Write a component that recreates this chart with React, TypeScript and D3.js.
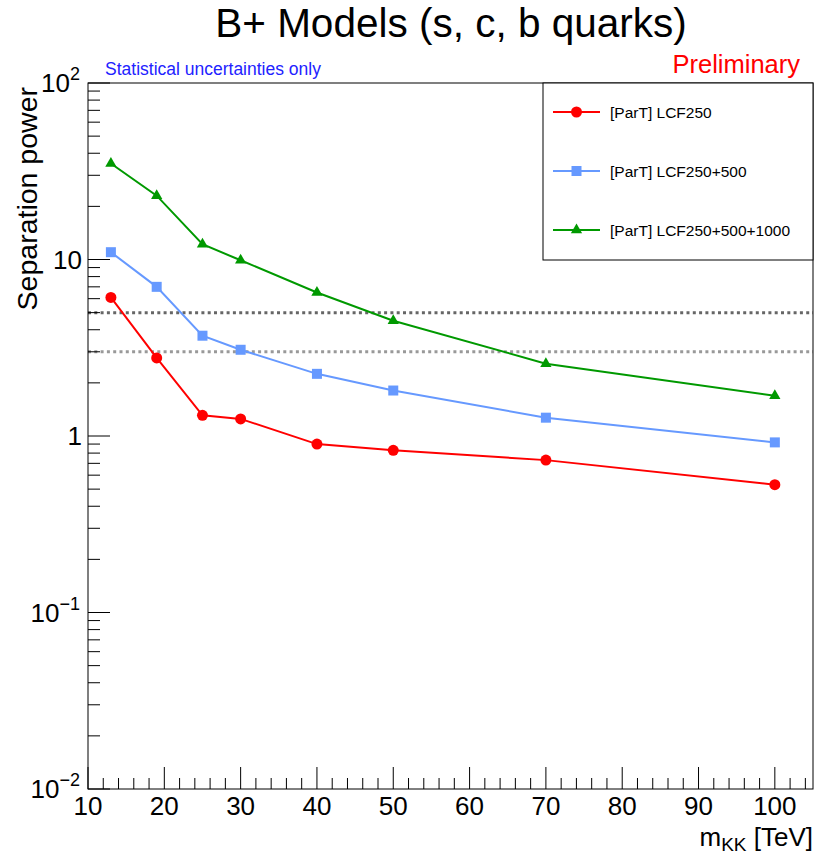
import React from "react";
import * as d3 from "d3";

// m_KK points [TeV]
const massPoints = [13, 19, 25, 30, 40, 50, 70, 100];
const lcf250 = [6.1, 2.77, 1.31, 1.25, 0.9, 0.83, 0.73, 0.53];
const lcf250_500 = [11.0, 7.0, 3.7, 3.08, 2.25, 1.81, 1.27, 0.92];
const lcf250_500_1000 = [35.0, 23.0, 12.2, 9.9, 6.5, 4.5, 2.57, 1.69];
const seriesNames = ["[ParT] LCF250", "[ParT] LCF250+500", "[ParT] LCF250+500+1000"];
const seriesColors = ["#ff0000", "#6699ff", "#009900"];
const xTicks = [10, 20, 30, 40, 50, 60, 70, 80, 90, 100];
const yDecades = [0.01, 0.1, 1, 10, 100];
const yDecadeLabels = [["10", "\u22122"], ["10", "\u22121"], ["1", ""], ["10", ""], ["10", "2"]];
const thresholds = [5, 3];
const thresholdColors = ["#666666", "#999999"];

const W = 817, H = 855;
const left = 88, right = 813, top = 83, bottom = 789;
const FONT = "'Liberation Sans', Arial, Helvetica, sans-serif";

export default function App() {
  const x = d3.scaleLinear().domain([10, 105]).range([left, right]);
  const y = d3.scaleLog().domain([0.01, 100]).range([bottom, top]);

  const data = [lcf250, lcf250_500, lcf250_500_1000];
  const line = d3.line<number>()
    .x((_, i) => x(massPoints[i]))
    .y((d) => y(d));

  const xMinor = d3.range(10, 105, 2).filter((v) => v % 10 !== 0);
  const yMinor: number[] = [];
  yDecades.slice(0, -1).forEach((dec) => {
    for (let k = 2; k <= 9; k++) yMinor.push(dec * k);
  });

  const marker = (s: number, cx: number, cy: number, key: string) => {
    const c = seriesColors[s];
    if (s === 0) return <circle key={key} cx={cx} cy={cy} r={5.5} fill={c} />;
    if (s === 1) return <rect key={key} x={cx - 5} y={cy - 5} width={10} height={10} fill={c} />;
    const sym = d3.symbol().type(d3.symbolTriangle).size(55)();
    return <path key={key} d={sym || ""} transform={`translate(${cx},${cy})`} fill={c} />;
  };

  const legendY = [112, 171, 230];

  return (
    <svg width={W} height={H} style={{ position: "absolute", left: 0, top: 0, background: "#fff" }} fontFamily={FONT}>
      <rect x={0} y={0} width={W} height={H} fill="#fff" />
      <text x={451} y={37} fontSize={40.5} textAnchor="middle" fill="#000">B+ Models (s, c, b quarks)</text>
      <text x={105} y={75} fontSize={17.5} fill="#2222ff">Statistical uncertainties only</text>
      <text x={800} y={73} fontSize={25.5} textAnchor="end" fill="#ff0000">Preliminary</text>

      {/* threshold lines */}
      {thresholds.map((t, i) => (
        <line key={"th" + i} x1={left} x2={right} y1={y(t)} y2={y(t)}
          stroke={thresholdColors[i]} strokeWidth={3} strokeDasharray="3,3.3" />
      ))}

      {/* series */}
      {data.map((vals, s) => (
        <g key={"s" + s}>
          <path d={line(vals) || ""} fill="none" stroke={seriesColors[s]} strokeWidth={2} />
          {vals.map((v, i) => marker(s, x(massPoints[i]), y(v), `m${s}-${i}`))}
        </g>
      ))}

      {/* frame */}
      <rect x={left} y={top} width={right - left} height={bottom - top} fill="none" stroke="#000" strokeWidth={1} />

      {/* x axis ticks */}
      {xTicks.map((t) => (
        <g key={"xt" + t}>
          <line x1={x(t)} x2={x(t)} y1={bottom} y2={bottom - 22} stroke="#000" />
          <text x={x(t)} y={815} fontSize={26} textAnchor="middle">{t}</text>
        </g>
      ))}
      {xMinor.map((t) => (
        <line key={"xm" + t} x1={x(t)} x2={x(t)} y1={bottom} y2={bottom - 11} stroke="#000" />
      ))}
      <text x={813} y={846} fontSize={26} textAnchor="end">
        m<tspan fontSize={19} dy={5}>KK</tspan><tspan dy={-5}> [TeV]</tspan>
      </text>

      {/* y axis ticks */}
      {yDecades.map((d, i) => {
        const [base, exp] = yDecadeLabels[i];
        return (
          <g key={"yt" + i}>
            <line x1={left} x2={left + 22} y1={y(d)} y2={y(d)} stroke="#000" />
            <text x={exp ? 80 : 82} y={y(d) + 9} fontSize={26} textAnchor="end">
              {base}
              {exp ? <tspan fontSize={18} dy={-12}>{exp}</tspan> : null}
            </text>
          </g>
        );
      })}
      {yMinor.map((t, i) => (
        <line key={"ym" + i} x1={left} x2={left + 12} y1={y(t)} y2={y(t)} stroke="#000" />
      ))}
      <text transform={`translate(37,87) rotate(-90)`} fontSize={28.5} textAnchor="end">Separation power</text>

      {/* legend */}
      <rect x={543} y={83} width={270} height={177} fill="#fff" stroke="#000" strokeWidth={1} />
      {seriesNames.map((n, i) => (
        <g key={"lg" + i}>
          <line x1={553} x2={600} y1={legendY[i]} y2={legendY[i]} stroke={seriesColors[i]} strokeWidth={2} />
          {marker(i, 576.5, legendY[i], "lm" + i)}
          <text x={610} y={legendY[i] + 5.5} fontSize={15.5}>{n}</text>
        </g>
      ))}
    </svg>
  );
}
